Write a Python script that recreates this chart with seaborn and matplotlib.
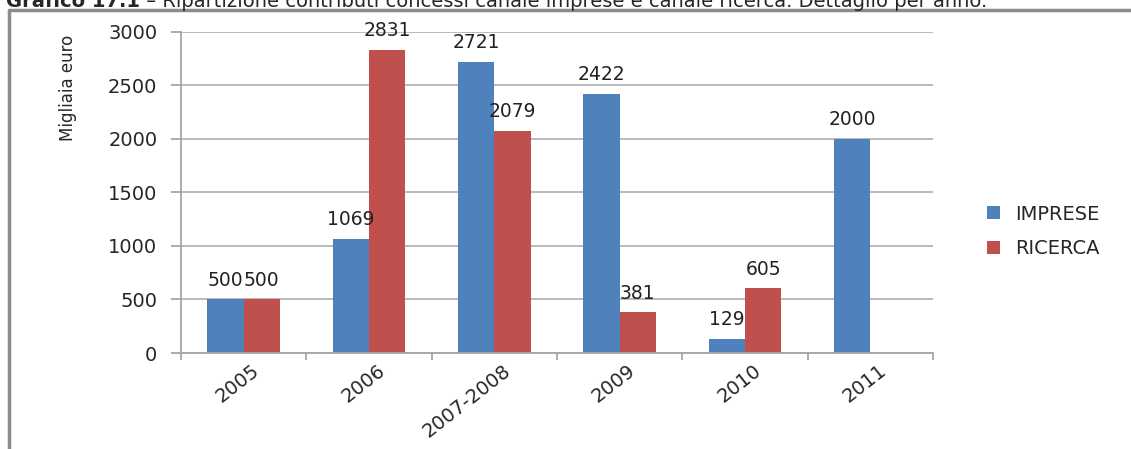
import matplotlib
matplotlib.use("Agg")
import matplotlib.pyplot as plt
import matplotlib.transforms as mtransforms
from matplotlib.lines import Line2D
import seaborn as sns
import pandas as pd

# Data (migliaia di euro)
years = ['2005', '2006', '2007-2008', '2009', '2010', '2011']
imprese = [500, 1069, 2721, 2422, 129, 2000]
ricerca = [500, 2831, 2079, 381, 605, None]  # no RICERCA bar in 2011
series = ['IMPRESE', 'RICERCA']
colors = ['#4F81BD', '#C0504D']

df = pd.DataFrame({
    'Anno': years * 2,
    'Serie': ['IMPRESE'] * len(years) + ['RICERCA'] * len(years),
    'Valore': imprese + ricerca,
}).dropna()

sns.set_style('white')
plt.rcParams['font.family'] = ['DejaVu Sans']

fig = plt.figure(figsize=(11.31, 4.49), dpi=100)
ax = fig.add_axes([0.160, 0.2138, 0.665, 0.715])

sns.barplot(data=df, x='Anno', y='Valore', hue='Serie', order=years,
            hue_order=series, palette=colors, saturation=1, width=0.58,
            errorbar=None, linewidth=0, ax=ax)

for cont in ax.containers:
    ax.bar_label(cont, fmt='{:.0f}', padding=7, fontsize=13.5, color='#222222')

ax.set_ylim(0, 3000)
ax.set_xlim(-0.5, 5.5)
ax.set_yticks(range(0, 3001, 500))
ax.yaxis.grid(True, color='#b5b5b5', linewidth=1.3)
ax.set_axisbelow(True)
for side in ['top', 'right']:
    ax.spines[side].set_visible(False)
for side in ['left', 'bottom']:
    ax.spines[side].set_color('#a6a6a6')
    ax.spines[side].set_linewidth(1.3)

ax.tick_params(axis='y', length=7, width=1.3, color='#a6a6a6', pad=10,
               labelsize=14, left=True)
ax.tick_params(axis='x', which='major', length=0, labelsize=14, pad=8)
ax.set_xticks([i - 0.5 for i in range(len(years) + 1)], minor=True)
ax.tick_params(axis='x', which='minor', length=5, width=1.3,
               color='#a6a6a6', bottom=True)
shift = mtransforms.ScaledTranslation(8 / 100, 3 / 100, fig.dpi_scale_trans)
for lab in ax.get_xticklabels():
    lab.set_rotation(38)
    lab.set_ha('right')
    lab.set_rotation_mode('anchor')
    lab.set_transform(lab.get_transform() + shift)

ax.set_xlabel('')
ax.set_ylabel('Migliaia euro', family=['Liberation Sans Narrow', 'DejaVu Sans'],
              fontsize=12)
ax.yaxis.set_label_coords(-0.138, 0.826)

handles, labels = ax.get_legend_handles_labels()
ax.legend(handles, labels, loc='center left', frameon=False,
          bbox_to_anchor=(0.864, 0.4844), bbox_transform=fig.transFigure,
          borderpad=0, handlelength=0.65, handleheight=0.65,
          handletextpad=0.8, labelspacing=0.8, fontsize=14)

# Title (its top is cut off in the original as well)
t1 = fig.text(0.005, 1 - 7 / 449, 'Grafico 17.1', fontsize=14,
              weight='bold', va='baseline', ha='left')
fig.canvas.draw()
bb = t1.get_window_extent()
fig.text(bb.x1 / fig.bbox.width, 1 - 7 / 449,
         ' \u2013 Ripartizione contributi concessi canale imprese e canale ricerca. Dettaglio per anno.',
         fontsize=14, va='baseline', ha='left')

# Frame around the chart
fig.add_artist(Line2D([9 / 1131, 9 / 1131], [0, 1 - 10 / 449],
                      transform=fig.transFigure, color='#8c8c8c', lw=2.5))
fig.add_artist(Line2D([9 / 1131, 1], [1 - 10 / 449, 1 - 10 / 449],
                      transform=fig.transFigure, color='#8c8c8c', lw=2.5))

fig.savefig('out.png', dpi=100)
